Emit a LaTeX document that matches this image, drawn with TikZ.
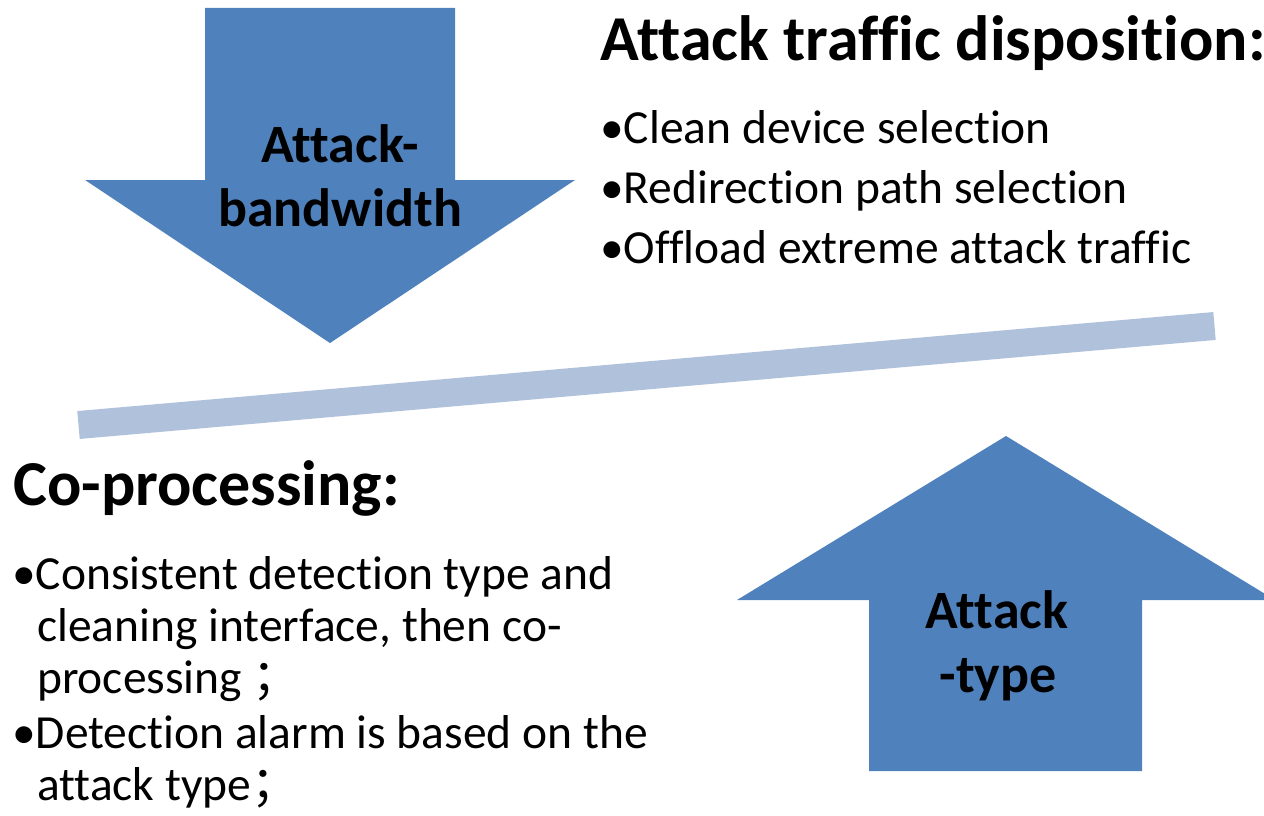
\documentclass[tikz,border=0pt]{standalone}
\usepackage{fontspec}
\setmainfont{Carlito}[Ligatures={NoCommon}]
\newfontfamily\cjkfont{Noto Sans CJK SC}
\definecolor{arrowblue}{HTML}{4F81BD}
\definecolor{barblue}{HTML}{B0C1DB}
\newcommand{\fwsemi}{{\cjkfont ；}}

\begin{document}
\begin{tikzpicture}[x=1pt,y=-1pt,
  arrowfill/.style={fill=arrowblue,draw=none},
  arrowlabel/.style={inner sep=0pt,anchor=base,font=\fontsize{54}{64}\selectfont\bfseries},
  heading/.style={inner sep=0pt,anchor=base west,font=\fontsize{64}{74}\selectfont\bfseries},
  item/.style={inner sep=0pt,anchor=base west,font=\fontsize{47.5}{56}\selectfont},
]
\useasboundingbox (0,0) rectangle (1264,816);
\clip (0,0) rectangle (1264,816);

% downward arrow (bandwidth)
\fill[arrowfill] (205,8) -- (455,8) -- (455,180) -- (575,180) -- (330,343)
  -- (85,180) -- (205,180) -- cycle;
\node[arrowlabel] (bw1) at (340,162) {Attack-};
\node[arrowlabel] (bw2) at (340,226) {bandwidth};

% tilted balance bar
\coordinate (barL) at (78.5,425);
\coordinate (barR) at (1214.5,326);
\draw[barblue,line width=28pt] (barL) -- (barR);

% upward arrow (type)
\fill[arrowfill] (869,771) -- (1142,771) -- (1142,600) -- (1275,600) -- (1006,436)
  -- (737,600) -- (869,600) -- cycle;
\node[arrowlabel] (ty1) at (997,628) {Attack};
\node[arrowlabel] (ty2) at (998,692) {-type};

% disposition list
\node[heading] (disp) at (600,60.5) {Attack traffic disposition:};
\node[item] (d1) at (600,143) {•Clean device selection};
\node[item] (d2) at (600,203) {•Redirection path selection};
\node[item] (d3) at (600,263) {•Offload extreme attack traffic};

% co-processing list
\node[heading] (cop) at (13,505) {Co-processing:};
\node[item] (c1) at (12,589) {•Consistent detection type and};
\node[item] (c2) at (37,641) {cleaning interface, then co-};
\node[item] (c3) at (37,693) {processing \fwsemi};
\node[item] (c4) at (12,748) {•Detection alarm is based on the};
\node[item] (c5) at (37,800) {attack type\fwsemi};
\end{tikzpicture}
\end{document}
